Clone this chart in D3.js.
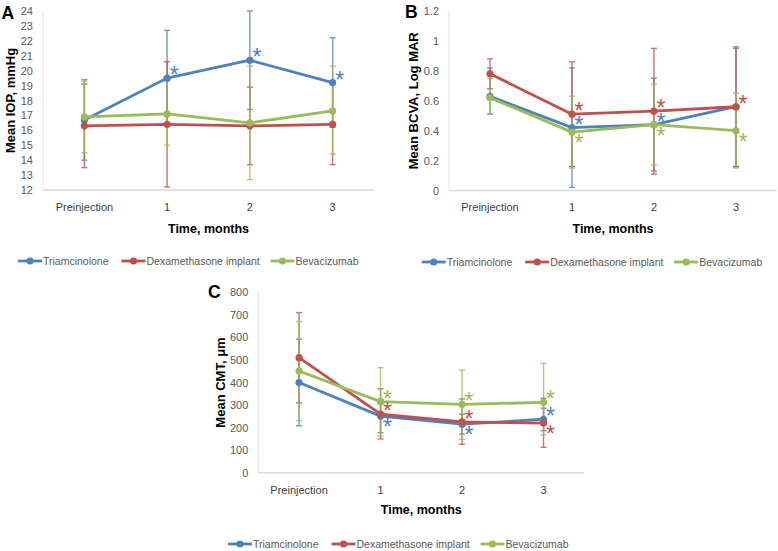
<!DOCTYPE html>
<html><head><meta charset="utf-8">
<script src="https://cdn.jsdelivr.net/npm/d3@7"></script>
<style>
body{margin:0;background:#fff;}
svg{display:block;font-family:"Liberation Sans",Arial,sans-serif;}
</style></head>
<body>
<svg id="chart" width="778" height="551"></svg>
<script>
// ---------- data ----------
const categories = ["Preinjection", "1", "2", "3"];
const seriesNames = ["Triamcinolone", "Dexamethasone implant", "Bevacizumab"];
const seriesColors = ["#4F81BD", "#C0504D", "#9BBB59"];

// Panel A: Mean IOP, mmHg
const iopTri = [16.7, 19.5, 20.7, 19.2];
const iopTriLow = [14.0, 16.3, 17.4, 16.2];
const iopTriHigh = [19.4, 22.7, 24.0, 22.2];
const iopDex = [16.3, 16.4, 16.3, 16.4];
const iopDexLow = [13.5, 12.2, 13.7, 13.7];
const iopDexHigh = [19.1, 20.6, 18.9, 19.1];
const iopBev = [16.9, 17.1, 16.5, 17.3];
const iopBevLow = [14.5, 15.0, 12.7, 14.4];
const iopBevHigh = [19.3, 19.3, 20.3, 20.3];
const iopTicks = [12, 13, 14, 15, 16, 17, 18, 19, 20, 21, 22, 23, 24];

// Panel B: Mean BCVA, Log MAR
const bcvaTri = [0.63, 0.42, 0.44, 0.56];
const bcvaTriLow = [0.51, 0.02, 0.13, 0.16];
const bcvaTriHigh = [0.82, 0.82, 0.75, 0.95];
const bcvaDex = [0.78, 0.51, 0.53, 0.56];
const bcvaDexLow = [0.68, 0.16, 0.11, 0.16];
const bcvaDexHigh = [0.88, 0.86, 0.95, 0.96];
const bcvaBev = [0.62, 0.39, 0.44, 0.40];
const bcvaBevLow = [0.51, 0.15, 0.17, 0.15];
const bcvaBevHigh = [0.75, 0.63, 0.71, 0.65];
const bcvaTicks = [0, 0.2, 0.4, 0.6, 0.8, 1, 1.2];

// Panel C: Mean CMT, μm
const cmtTri = [400, 251, 215, 237];
const cmtTriLow = [208, 177, 171, 186];
const cmtTriHigh = [592, 325, 259, 286];
const cmtDex = [510, 260, 225, 220];
const cmtDexLow = [310, 150, 126, 113];
const cmtDexHigh = [710, 372, 327, 330];
const cmtBev = [451, 315, 303, 312];
const cmtBevLow = [231, 163, 148, 167];
const cmtBevHigh = [670, 466, 455, 485];
const cmtTicks = [0, 100, 200, 300, 400, 500, 600, 700, 800];

// significance asterisks: [seriesIndex, categoryIndex, side]
const iopStars = [[0,1,"up"],[0,2,"up"],[0,3,"up"]];
const bcvaStars = [[1,1,"up"],[0,1,"up"],[2,1,"down"],[1,2,"up"],[0,2,"up"],[2,2,"down"],[1,3,"up"],[2,3,"down"]];
const cmtStars = [[2,1,"up"],[1,1,"up"],[0,1,"down"],[2,2,"up"],[1,2,"up"],[0,2,"down"],[2,3,"up"],[0,3,"up"],[1,3,"down"]];

// ---------- drawing ----------
const svg = d3.select("#chart");
const FONT = '"Liberation Sans", Arial, sans-serif';
const legendOffsets = [0, 103.5, 252.5];

function panel(cfg) {
  const g = svg.append("g");
  const x = d3.scaleBand().domain(categories).range([cfg.x0, cfg.x1]);
  const y = d3.scaleLinear().domain(cfg.domain).range([cfg.y1, cfg.y0]);
  const cx = c => x(c) + x.bandwidth() / 2;

  // axis lines
  g.append("line").attr("x1", cfg.x0).attr("x2", cfg.x0).attr("y1", cfg.y0).attr("y2", cfg.y1)
    .attr("stroke", "#e3e3dc").attr("stroke-width", 1);
  g.append("line").attr("x1", cfg.x0).attr("x2", cfg.x1).attr("y1", cfg.y1).attr("y2", cfg.y1)
    .attr("stroke", "#d9d9d9").attr("stroke-width", 1.5);

  // y axis labels
  const ya = g.append("g").attr("transform", `translate(${cfg.x0},0)`)
    .call(d3.axisLeft(y).tickValues(cfg.ticks).tickSize(0).tickPadding(10)
      .tickFormat(d => String(+d.toFixed(1))));
  ya.select(".domain").remove();
  ya.selectAll("text").attr("fill", "#595959").style("font-size", "11px").style("font-family", FONT);

  // x axis labels
  const xa = g.append("g").attr("transform", `translate(0,${cfg.y1})`)
    .call(d3.axisBottom(x).tickSize(0).tickPadding(cfg.xPad));
  xa.select(".domain").remove();
  xa.selectAll("text").attr("fill", "#404040").style("font-size", "11px").style("font-family", FONT);

  // titles
  g.append("text").attr("x", (cfg.x0 + cfg.x1) / 2).attr("y", cfg.xTitleY)
    .attr("text-anchor", "middle").style("font-size", "12.5px").style("font-weight", "bold")
    .attr("fill", "#000").text("Time, months");
  g.append("text").attr("transform", `translate(${cfg.yTitleX},${(cfg.y0 + cfg.y1) / 2}) rotate(-90)`)
    .attr("text-anchor", "middle").attr("dy", "0.35em").style("font-size", "13px").style("font-weight", "bold")
    .attr("fill", "#000").text(cfg.yTitle);
  g.append("text").attr("x", cfg.labelX).attr("y", cfg.labelY)
    .style("font-size", "17.5px").style("font-weight", "bold").attr("fill", "#000").text(cfg.label);

  // error bars
  cfg.series.forEach((s, i) => {
    const col = seriesColors[i];
    const eb = g.append("g").attr("stroke", col).attr("stroke-width", 1.4).attr("opacity", 0.8);
    categories.forEach((c, j) => {
      const X = cx(c);
      eb.append("line").attr("x1", X).attr("x2", X).attr("y1", y(s.low[j])).attr("y2", y(s.high[j]));
      [s.low[j], s.high[j]].forEach(v => {
        eb.append("line").attr("x1", X - 3).attr("x2", X + 3).attr("y1", y(v)).attr("y2", y(v));
      });
    });
  });

  // lines + markers
  cfg.series.forEach((s, i) => {
    const col = seriesColors[i];
    const line = d3.line().x((d, j) => cx(categories[j])).y(d => y(d));
    g.append("path").attr("d", line(s.mean)).attr("fill", "none")
      .attr("stroke", col).attr("stroke-width", 2.8).attr("stroke-linejoin", "round");
    g.selectAll(null).data(s.mean).enter().append("circle")
      .attr("cx", (d, j) => cx(categories[j])).attr("cy", d => y(d)).attr("r", 3.6).attr("fill", col);
  });

  // asterisks
  cfg.stars.forEach(([si, ci, side]) => {
    const X = cx(categories[ci]) + 7;
    const Y = y(cfg.series[si].mean[ci]) + (side === "up" ? -8 : 6);
    g.append("text").attr("x", X).attr("y", Y + 13).attr("text-anchor", "middle")
      .style("font-size", "23px").attr("fill", seriesColors[si]).text("*");
  });

  // legend
  const lg = g.append("g").attr("transform", `translate(${cfg.legendX},${cfg.legendY})`);
  seriesNames.forEach((n, i) => {
    const it = lg.append("g").attr("transform", `translate(${legendOffsets[i]},0)`);
    it.append("line").attr("x1", 0).attr("x2", 24).attr("y1", 0).attr("y2", 0)
      .attr("stroke", seriesColors[i]).attr("stroke-width", 2.8);
    it.append("circle").attr("cx", 12).attr("cy", 0).attr("r", 3.6).attr("fill", seriesColors[i]);
    it.append("text").attr("x", 25).attr("y", 0).attr("dy", "0.35em")
      .style("font-size", "10.5px").attr("fill", "#595959").text(n);
  });
}

panel({
  label: "A", labelX: 1.5, labelY: 18.5,
  x0: 43, x1: 374, y0: 11, y1: 190, domain: [12, 24], ticks: iopTicks,
  xPad: 13, xTitleY: 232.5, yTitleX: 10, yTitle: "Mean IOP, mmHg",
  legendX: 18, legendY: 261,
  series: [
    {mean: iopTri, low: iopTriLow, high: iopTriHigh},
    {mean: iopDex, low: iopDexLow, high: iopDexHigh},
    {mean: iopBev, low: iopBevLow, high: iopBevHigh}],
  stars: iopStars
});
panel({
  label: "B", labelX: 405, labelY: 17.5,
  x0: 449, x1: 777, y0: 11, y1: 190.5, domain: [0, 1.2], ticks: bcvaTicks,
  xPad: 13, xTitleY: 232.5, yTitleX: 413, yTitle: "Mean BCVA, Log MAR",
  legendX: 421.7, legendY: 262,
  series: [
    {mean: bcvaTri, low: bcvaTriLow, high: bcvaTriHigh},
    {mean: bcvaDex, low: bcvaDexLow, high: bcvaDexHigh},
    {mean: bcvaBev, low: bcvaBevLow, high: bcvaBevHigh}],
  stars: bcvaStars
});
panel({
  label: "C", labelX: 208, labelY: 297.5,
  x0: 258.3, x1: 584.3, y0: 292.3, y1: 472.7, domain: [0, 800], ticks: cmtTicks,
  xPad: 13.5, xTitleY: 514, yTitleX: 220, yTitle: "Mean CMT, μm",
  legendX: 228, legendY: 544,
  series: [
    {mean: cmtTri, low: cmtTriLow, high: cmtTriHigh},
    {mean: cmtDex, low: cmtDexLow, high: cmtDexHigh},
    {mean: cmtBev, low: cmtBevLow, high: cmtBevHigh}],
  stars: cmtStars
});
</script>
</body></html>
